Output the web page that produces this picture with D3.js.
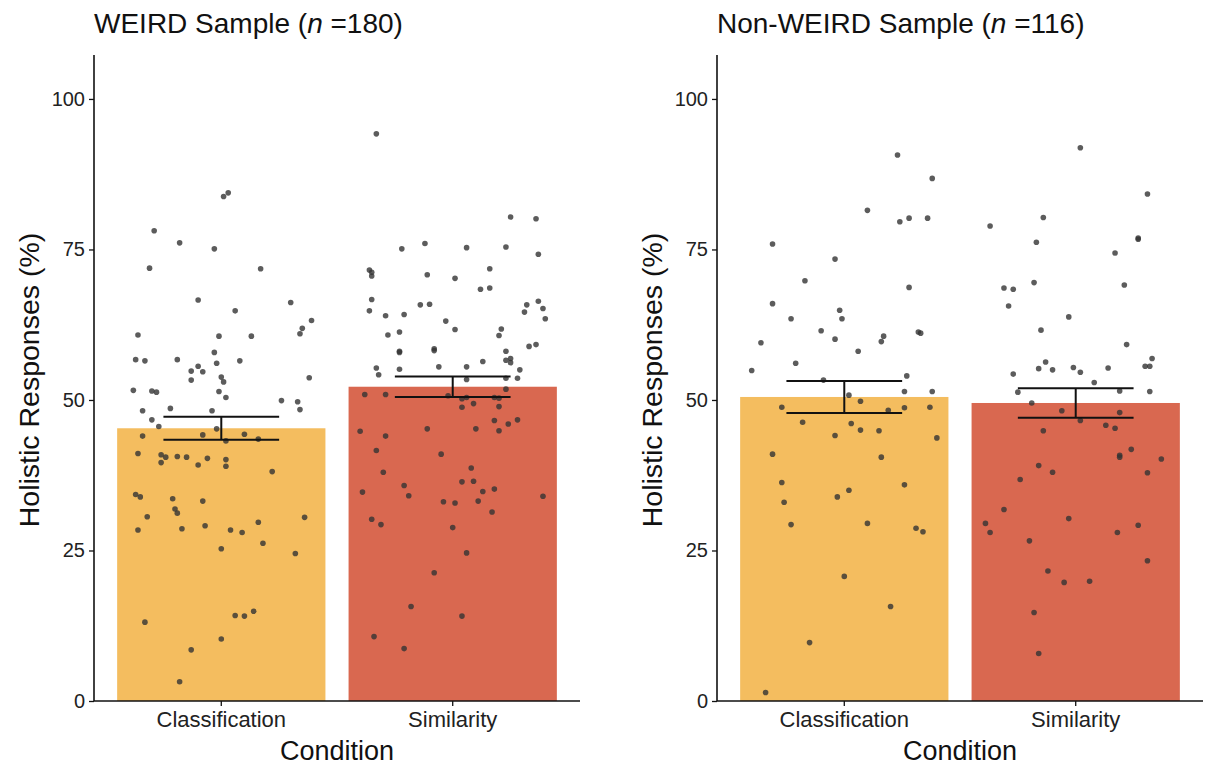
<!DOCTYPE html>
<html>
<head>
<meta charset="utf-8">
<script src="https://cdn.jsdelivr.net/npm/d3@7"></script>
<style>
  body { margin: 0; background: #fff; }
  text { font-family: "Liberation Sans", Arial, Helvetica, sans-serif; }
</style>
</head>
<body>
<svg id="chart" width="1207" height="765"></svg>
<script>
// ---- data ----
const conditions = ["Classification", "Similarity"];
const yTicks = [0, 25, 50, 75, 100];
const sampleNames = ["WEIRD Sample", "Non-WEIRD Sample"];
const sampleSizes = [180, 116];

const weirdMeans = [45.3, 52.2];
const weirdSE = [1.9, 1.7];
const nonWeirdMeans = [50.5, 49.5];
const nonWeirdSE = [2.65, 2.45];

// one entry per participant: [horizontal jitter (fraction of a category step), holistic responses %]
const weirdClassification = [
  [0.01,83.8],[0.03,84.4],[-0.29,78.1],[-0.18,76.1],[-0.03,75.1],[-0.31,71.9],[0.17,71.8],
  [-0.10,66.6],[0.30,66.2],[0.06,64.8],[0.39,63.2],[0.35,61.9],[0.34,61.0],[-0.36,60.8],
  [-0.01,60.6],[0.13,60.6],[-0.03,57.9],[-0.37,56.7],[-0.33,56.5],[-0.19,56.7],[-0.02,56.1],
  [0.08,56.5],[-0.10,55.6],[-0.13,54.8],[-0.08,54.7],[0.00,53.8],[0.01,53.0],[-0.13,53.3],
  [0.38,53.7],[-0.38,51.6],[-0.30,51.5],[-0.28,51.3],[-0.01,51.4],[0.02,50.4],[0.26,49.9],
  [0.33,49.7],[-0.34,48.2],[-0.22,48.6],[-0.04,48.2],[0.34,48.4],[-0.30,46.7],[-0.27,45.6],
  [-0.02,45.2],[-0.34,44.0],[-0.08,44.2],[0.10,44.3],[0.02,43.2],[0.16,43.5],[-0.36,41.1],
  [-0.26,40.9],[-0.24,40.5],[-0.19,40.6],[-0.15,40.5],[-0.06,40.3],[0.02,40.1],[-0.26,39.6],
  [-0.10,39.2],[0.02,39.0],[0.22,38.1],[-0.37,34.3],[-0.35,33.9],[-0.21,33.6],[-0.08,33.2],
  [-0.20,31.9],[-0.19,31.2],[-0.32,30.6],[0.36,30.5],[-0.36,28.4],[-0.17,28.6],[-0.07,29.1],
  [0.04,28.4],[0.09,28.0],[0.16,29.7],[0.18,26.2],[0.00,25.3],[0.32,24.5],[-0.33,13.1],
  [0.06,14.2],[0.10,14.1],[0.14,14.9],[0.00,10.3],[-0.13,8.5],[-0.18,3.2]
];
const weirdSimilarity = [
  [-0.33,94.2],[0.25,80.4],[0.36,80.1],[-0.22,75.1],[-0.12,76.0],[0.06,75.3],[0.23,75.4],
  [0.37,74.2],[-0.36,71.6],[-0.35,71.2],[-0.35,70.6],[-0.11,70.8],[0.01,70.2],[0.16,71.8],
  [0.12,68.4],[0.16,68.6],[-0.35,66.7],[-0.36,64.8],[-0.29,64.0],[-0.21,64.2],[-0.14,65.8],
  [-0.10,65.9],[0.32,65.8],[0.37,66.4],[0.31,64.6],[0.39,65.2],[0.40,63.5],[-0.03,63.1],
  [0.01,61.7],[-0.28,60.8],[-0.23,61.3],[0.21,61.8],[0.20,60.7],[-0.23,57.9],[-0.23,58.1],
  [-0.08,58.5],[-0.08,58.2],[0.33,58.9],[0.36,59.2],[0.23,58.1],[0.13,56.4],[0.23,56.6],
  [0.25,56.9],[0.25,56.2],[-0.33,55.3],[-0.32,54.2],[-0.23,55.1],[-0.06,55.5],[0.06,55.5],
  [0.29,55.0],[0.28,53.6],[0.06,53.4],[0.23,53.6],[0.23,51.8],[-0.38,50.9],[-0.29,50.9],
  [-0.02,50.7],[0.04,50.2],[0.06,50.4],[0.18,50.4],[0.20,50.3],[0.04,48.8],[0.09,49.4],
  [0.20,48.9],[0.18,46.6],[0.24,46.0],[0.28,46.7],[0.20,44.9],[0.10,45.2],[-0.11,45.2],
  [-0.40,44.8],[-0.29,44.0],[-0.33,41.6],[-0.05,41.0],[-0.30,38.0],[0.08,38.7],[0.04,36.4],
  [0.09,36.5],[-0.21,35.8],[-0.39,34.7],[-0.19,34.1],[0.13,34.8],[0.18,35.2],[0.39,34.0],
  [-0.04,33.1],[0.01,32.9],[0.11,33.2],[0.17,31.4],[-0.35,30.2],[-0.31,29.3],[0.00,28.8],
  [0.06,24.6],[-0.08,21.3],[-0.18,15.7],[0.04,14.1],[-0.34,10.7],[-0.21,8.7]
];
const nonWeirdClassification = [
  [0.23,90.7],[0.38,86.8],[0.10,81.5],[0.24,79.6],[0.28,80.2],[0.36,80.2],[-0.31,75.9],
  [-0.04,73.4],[-0.17,69.8],[0.28,68.7],[-0.31,66.0],[-0.02,64.9],[-0.01,63.5],[-0.23,63.5],
  [-0.10,61.5],[-0.04,60.1],[0.32,61.3],[0.33,61.1],[0.17,60.6],[0.16,59.7],[-0.36,59.5],
  [0.06,58.1],[-0.21,56.1],[-0.40,54.9],[0.27,54.0],[-0.09,53.3],[0.26,51.4],[0.38,51.4],
  [0.02,50.8],[0.07,49.8],[-0.27,48.8],[0.26,48.7],[0.37,48.8],[0.19,48.3],[-0.18,46.3],
  [0.03,46.1],[0.07,45.0],[0.15,44.9],[-0.04,44.1],[0.40,43.7],[-0.31,41.0],[0.16,40.5],
  [-0.27,36.3],[0.02,35.0],[-0.03,33.9],[0.26,35.9],[-0.26,33.0],[-0.23,29.3],[0.10,29.5],
  [0.31,28.7],[0.34,28.1],[0.00,20.7],[0.20,15.7],[-0.15,9.7],[-0.34,1.4]
];
const nonWeirdSimilarity = [
  [0.02,91.9],[0.31,84.2],[-0.37,78.9],[-0.14,80.3],[-0.17,76.2],[0.27,76.9],[0.27,76.7],
  [0.17,74.4],[-0.31,68.6],[-0.27,68.4],[-0.18,69.5],[0.21,69.1],[-0.29,65.6],[-0.03,63.8],
  [-0.15,61.6],[0.22,59.2],[0.33,56.9],[0.30,55.6],[0.32,55.6],[-0.13,56.3],[-0.16,55.2],
  [-0.10,55.0],[-0.01,55.4],[0.02,54.6],[0.14,55.3],[-0.27,54.3],[0.08,52.9],[-0.25,51.3],
  [0.19,51.5],[0.32,51.4],[-0.19,49.5],[-0.06,48.2],[0.19,47.9],[0.02,46.6],[0.13,45.8],
  [0.17,45.3],[-0.14,44.9],[0.24,41.8],[0.19,40.5],[0.19,40.8],[0.37,40.2],[-0.16,39.1],
  [-0.10,38.0],[0.31,37.9],[-0.24,36.8],[-0.31,31.8],[-0.03,30.3],[-0.39,29.5],[-0.37,28.0],
  [0.18,28.0],[0.27,29.2],[-0.20,26.6],[0.31,23.3],[-0.12,21.6],[-0.05,19.7],[0.06,19.9],
  [-0.18,14.7],[-0.16,7.9]
];

// ---- layout ----
const barColors = ["#F4BD5F", "#D96850"];
const panels = [
  { name: sampleNames[0], n: sampleSizes[0], means: weirdMeans, se: weirdSE,
    points: [weirdClassification, weirdSimilarity], x0: 94, x1: 580, yTitleX: 30 },
  { name: sampleNames[1], n: sampleSizes[1], means: nonWeirdMeans, se: nonWeirdSE,
    points: [nonWeirdClassification, nonWeirdSimilarity], x0: 717, x1: 1203, yTitleX: 653 }
];
const plotTop = 55, plotBottom = 701;

const svg = d3.select("#chart");
const y = d3.scaleLinear().domain([0, 107.3]).range([plotBottom, plotTop]);

panels.forEach(p => {
  const g = svg.append("g");
  const x = d3.scaleBand().domain(conditions).range([p.x0, p.x1]).padding(0.1);
  const step = x.step();
  const cx = c => x(c) + x.bandwidth() / 2;

  // bars (condition means)
  g.selectAll("rect.bar").data(conditions).join("rect")
    .attr("class", "bar")
    .attr("x", d => x(d))
    .attr("width", x.bandwidth())
    .attr("y", (d, i) => y(p.means[i]))
    .attr("height", (d, i) => y(0) - y(p.means[i]))
    .attr("fill", (d, i) => barColors[i]);

  // individual participants
  conditions.forEach((c, i) => {
    g.append("g").selectAll("circle").data(p.points[i]).join("circle")
      .attr("cx", d => cx(c) + d[0] * step)
      .attr("cy", d => y(d[1]))
      .attr("r", 2.8)
      .attr("fill", "#333333")
      .attr("fill-opacity", 0.8);
  });

  // error bars (± SE)
  const half = step * 0.25;
  conditions.forEach((c, i) => {
    const lo = y(p.means[i] - p.se[i]), hi = y(p.means[i] + p.se[i]);
    const eg = g.append("g").attr("stroke", "#111").attr("stroke-width", 2).attr("fill", "none");
    eg.append("line").attr("x1", cx(c)).attr("x2", cx(c)).attr("y1", lo).attr("y2", hi);
    eg.append("line").attr("x1", cx(c) - half).attr("x2", cx(c) + half).attr("y1", lo).attr("y2", lo);
    eg.append("line").attr("x1", cx(c) - half).attr("x2", cx(c) + half).attr("y1", hi).attr("y2", hi);
  });

  // y axis
  const yAxis = g.append("g")
    .attr("transform", `translate(${p.x0},0)`)
    .call(d3.axisLeft(y).tickValues(yTicks).tickSize(5).tickPadding(4));
  yAxis.select(".domain").attr("d", `M0,${plotTop}V${plotBottom}`).attr("stroke", "#111").attr("stroke-width", 1.6);
  yAxis.selectAll(".tick line").attr("stroke", "#111").attr("stroke-width", 1.3);
  yAxis.selectAll(".tick text").attr("font-size", 20).attr("fill", "#222")
    .style("font-family", '"Liberation Sans", Arial, sans-serif');

  // x axis
  const xAxis = g.append("g")
    .attr("transform", `translate(0,${plotBottom})`)
    .call(d3.axisBottom(x).tickSize(5).tickPadding(5));
  xAxis.select(".domain").attr("d", `M${p.x0},0H${p.x1}`).attr("stroke", "#111").attr("stroke-width", 1.6);
  xAxis.selectAll(".tick line").attr("stroke", "#111").attr("stroke-width", 1.3);
  xAxis.selectAll(".tick text").attr("font-size", 22).attr("fill", "#222")
    .style("font-family", '"Liberation Sans", Arial, sans-serif');

  // axis titles
  g.append("text")
    .attr("x", (p.x0 + p.x1) / 2).attr("y", 760)
    .attr("text-anchor", "middle").attr("font-size", 27).attr("fill", "#111")
    .text("Condition");
  g.append("text")
    .attr("transform", `translate(${p.yTitleX + 9},${(plotTop + plotBottom) / 2 + 2}) rotate(-90)`)
    .attr("text-anchor", "middle").attr("font-size", 28.5).attr("fill", "#111")
    .text("Holistic Responses (%)");

  // panel title
  const t = g.append("text").attr("x", p.x0).attr("y", 33).attr("font-size", 28).attr("fill", "#111");
  t.append("tspan").text(p.name + " (");
  t.append("tspan").attr("font-style", "italic").text("n");
  t.append("tspan").text(" =" + p.n + ")");
});
</script>
</body>
</html>
